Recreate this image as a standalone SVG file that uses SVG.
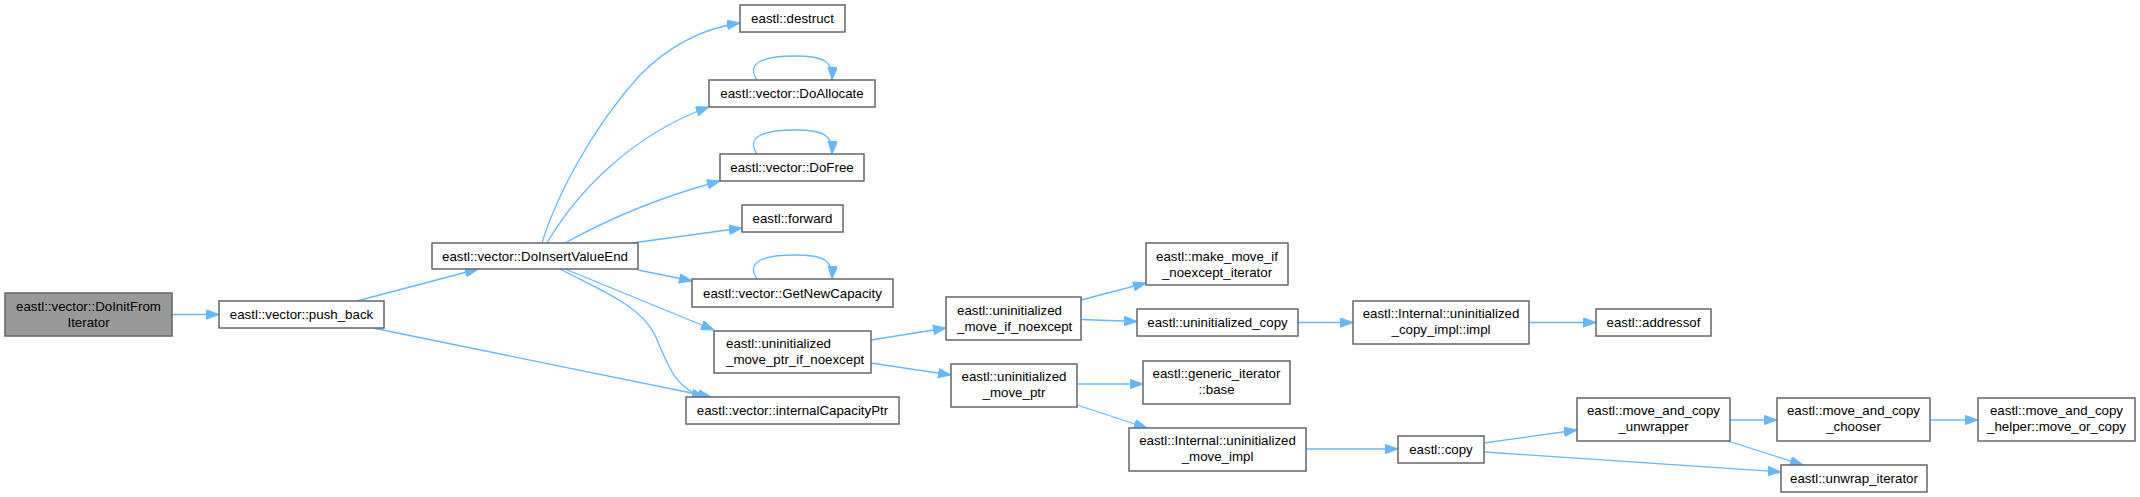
<svg xmlns="http://www.w3.org/2000/svg" width="2140" height="497" viewBox="0 0 2140 497">
<style>
.n rect{fill:#ffffff;stroke:#666666;stroke-width:1.5}
.n.root rect{fill:#999999}
.n text{font-family:"Liberation Sans",Arial,Helvetica,sans-serif;font-size:13.3px;fill:#000000;text-anchor:middle}
.n text.l{text-anchor:start}
#edges path{fill:none;stroke:#63b8ff;stroke-width:1.3;marker-end:url(#ah)}
</style>
<defs>
<marker id="ah" markerUnits="userSpaceOnUse" markerWidth="14" markerHeight="10" refX="13" refY="4.75" orient="auto">
<path d="M0,0 L13,4.75 L0,9.5 z" fill="#63b8ff" stroke="#63b8ff" stroke-width="1"/>
</marker>
</defs>
<rect width="2140" height="497" fill="#ffffff"/>
<g id="edges">
<path d="M172,314.5 L219,314.5"/>
<path d="M357,301 L478,269"/>
<path d="M373,328 L711,397"/>
<path d="M542,243 C555,200 590,130 640,75 C670,45 705,28 740,23"/>
<path d="M547,243 C575,195 630,135 709,107"/>
<path d="M565,243 C610,218 660,197 720,181"/>
<path d="M632,243 L742,228"/>
<path d="M638,270 L692,281"/>
<path d="M565,269 L714,330"/>
<path d="M560,269 C600,290 640,305 655,335 C668,365 675,390 705,397"/>
<path d="M757,80 C745,62 765,56 795,56 C825,56 833,62 832,80"/>
<path d="M757,154 C745,136 765,130 795,130 C825,130 833,136 832,154"/>
<path d="M757,279 C745,261 765,255 795,255 C825,255 833,261 832,279"/>
<path d="M871,340 L946,328"/>
<path d="M871,363 L951,375"/>
<path d="M1081,300 L1146,283"/>
<path d="M1081,319.5 L1137,321.5"/>
<path d="M1298,322.5 L1353,322.5"/>
<path d="M1529,322.5 L1596,322.5"/>
<path d="M1077,384 L1143,384"/>
<path d="M1077,405 L1147,428"/>
<path d="M1306,449 L1398,449"/>
<path d="M1484,443 L1577,430"/>
<path d="M1484,452 L1781,472"/>
<path d="M1730,420 L1777,420"/>
<path d="M1728,441 L1803,465"/>
<path d="M1930,420 L1978,420"/>
</g>
<g id="n_DoInitFromIterator" class="n root"><rect x="5" y="293" width="167" height="43"/><text x="88.5" y="311">eastl::vector::DoInitFrom</text><text x="88.5" y="327">Iterator</text></g>
<g id="n_push_back" class="n"><rect x="219" y="301" width="165" height="27"/><text x="301.5" y="319">eastl::vector::push_back</text></g>
<g id="n_DoInsertValueEnd" class="n"><rect x="432" y="243" width="206" height="26"/><text x="535" y="260.5">eastl::vector::DoInsertValueEnd</text></g>
<g id="n_destruct" class="n"><rect x="740" y="5" width="105" height="27"/><text x="792.5" y="23">eastl::destruct</text></g>
<g id="n_DoAllocate" class="n"><rect x="709" y="80" width="166" height="27"/><text x="792" y="98">eastl::vector::DoAllocate</text></g>
<g id="n_DoFree" class="n"><rect x="720" y="154" width="144" height="27"/><text x="792" y="172">eastl::vector::DoFree</text></g>
<g id="n_forward" class="n"><rect x="742" y="205" width="101" height="27"/><text x="792.5" y="223">eastl::forward</text></g>
<g id="n_GetNewCapacity" class="n"><rect x="692" y="279" width="201" height="28"/><text x="792.5" y="297.5">eastl::vector::GetNewCapacity</text></g>
<g id="n_uninitialized_move_ptr_if_noexcept" class="n"><rect x="714" y="331" width="157" height="42"/><text class="l" x="726" y="348">eastl::uninitialized</text><text class="l" x="726" y="364">_move_ptr_if_noexcept</text></g>
<g id="n_internalCapacityPtr" class="n"><rect x="686" y="397" width="213" height="27"/><text x="792.5" y="415">eastl::vector::internalCapacityPtr</text></g>
<g id="n_uninitialized_move_if_noexcept" class="n"><rect x="946" y="297" width="135" height="43"/><text class="l" x="957" y="315">eastl::uninitialized</text><text class="l" x="957" y="331">_move_if_noexcept</text></g>
<g id="n_make_move_if_noexcept_iterator" class="n"><rect x="1146" y="243" width="142" height="42"/><text x="1217" y="260.5">eastl::make_move_if</text><text x="1217" y="276.5">_noexcept_iterator</text></g>
<g id="n_uninitialized_copy" class="n"><rect x="1137" y="309" width="161" height="27"/><text x="1217.5" y="327">eastl::uninitialized_copy</text></g>
<g id="n_uninitialized_copy_impl" class="n"><rect x="1353" y="301" width="176" height="43"/><text x="1441" y="318">eastl::Internal::uninitialized</text><text x="1441" y="334">_copy_impl::impl</text></g>
<g id="n_addressof" class="n"><rect x="1596" y="309" width="115" height="27"/><text x="1653.5" y="327">eastl::addressof</text></g>
<g id="n_uninitialized_move_ptr" class="n"><rect x="951" y="364" width="126" height="43"/><text x="1014" y="381">eastl::uninitialized</text><text x="1014" y="397">_move_ptr</text></g>
<g id="n_generic_iterator_base" class="n"><rect x="1143" y="361" width="147" height="43"/><text x="1216.5" y="378">eastl::generic_iterator</text><text x="1216.5" y="394">::base</text></g>
<g id="n_uninitialized_move_impl" class="n"><rect x="1129" y="428" width="177" height="43"/><text x="1217.5" y="445">eastl::Internal::uninitialized</text><text x="1217.5" y="461">_move_impl</text></g>
<g id="n_copy" class="n"><rect x="1398" y="436" width="86" height="27"/><text x="1441" y="454">eastl::copy</text></g>
<g id="n_move_and_copy_unwrapper" class="n"><rect x="1577" y="398" width="153" height="43"/><text x="1653.5" y="415">eastl::move_and_copy</text><text x="1653.5" y="431">_unwrapper</text></g>
<g id="n_move_and_copy_chooser" class="n"><rect x="1777" y="398" width="153" height="43"/><text x="1853.5" y="415">eastl::move_and_copy</text><text x="1853.5" y="431">_chooser</text></g>
<g id="n_move_or_copy" class="n"><rect x="1978" y="398" width="157" height="43"/><text x="2056.5" y="415">eastl::move_and_copy</text><text x="2056.5" y="431">_helper::move_or_copy</text></g>
<g id="n_unwrap_iterator" class="n"><rect x="1781" y="465" width="146" height="27"/><text x="1854" y="483">eastl::unwrap_iterator</text></g>
</svg>
